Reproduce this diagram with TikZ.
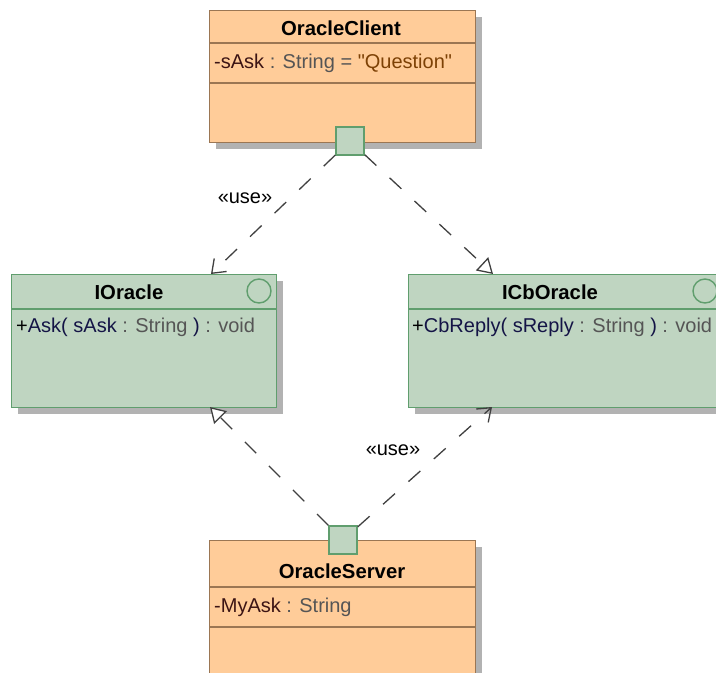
\documentclass[tikz,border=0pt]{standalone}
\usepackage{fontspec}
\setmainfont{Liberation Sans}[Ligatures=TeXOff]
\usetikzlibrary{arrows.meta,shadows}

\definecolor{clsfill}{RGB}{255,204,153}
\definecolor{clsdraw}{RGB}{155,118,83}
\definecolor{ifcfill}{RGB}{191,213,193}
\definecolor{ifcdraw}{RGB}{96,158,110}
\definecolor{shadowgray}{RGB}{178,178,178}
\definecolor{attrcol}{RGB}{60,20,20}
\definecolor{typecol}{RGB}{85,85,85}
\definecolor{valcol}{RGB}{125,65,5}
\definecolor{opcol}{RGB}{20,20,70}

\newcommand{\umlfont}{\fontsize{20}{24}\selectfont}

\tikzset{
  umlbox/.style={draw, line width=1.4pt, anchor=north west, inner sep=0,
    general shadow={fill=shadowgray, shadow xshift=6pt, shadow yshift=-6pt}},
  classbox/.style={umlbox, fill=clsfill, draw=clsdraw},
  ifcbox/.style={umlbox, fill=ifcfill, draw=ifcdraw},
  port/.style={draw=ifcdraw, fill=ifcfill, line width=1.4pt, minimum size=28pt, inner sep=0},
  boxname/.style={inner sep=0, font=\fontsize{20.3}{24}\selectfont\bfseries},
  member/.style={inner sep=0, anchor=west},
  usedep/.style={draw=black!75, line width=1.3pt, dash pattern=on 16pt off 18pt,
    -{Straight Barb[length=12pt, width=18pt, line width=1.3pt]}},
  realize/.style={draw=black!75, line width=1.3pt, dash pattern=on 16pt off 18pt,
    -{Triangle[open, length=15pt, width=18pt, fill=white, line width=1.3pt]}},
  stereo/.style={inner sep=0}
}

\begin{document}
\begin{tikzpicture}[x=1pt, y=-1pt, font=\umlfont]
\path[use as bounding box, clip] (0,0) rectangle (716,673);

% classes
\node[classbox, minimum width=266pt, minimum height=132pt] (client) at (209,10) {};
\node[ifcbox, minimum width=265pt, minimum height=133pt] (ior) at (11,274) {};
\node[ifcbox, minimum width=314pt, minimum height=133pt] (icb) at (408,274) {};
\node[classbox, minimum width=266pt, minimum height=145pt] (server) at (209,540) {};

% compartments
\foreach \y in {43,83}
  \draw[clsdraw, line width=1.4pt] (client.west |- 0,\y) -- (client.east |- 0,\y);
\foreach \y in {587,627}
  \draw[clsdraw, line width=1.4pt] (server.west |- 0,\y) -- (server.east |- 0,\y);
\draw[ifcdraw, line width=1.4pt] (ior.west |- 0,309) -- (ior.east |- 0,309);
\draw[ifcdraw, line width=1.4pt] (icb.west |- 0,309) -- (icb.east |- 0,309);

% interface circles
\draw[ifcdraw, line width=1.4pt] (259,291) circle[radius=12pt];
\draw[ifcdraw, line width=1.4pt] (705,291) circle[radius=12pt];

% texts
\node[boxname] (client-name) at (341,28) {OracleClient};
\node[member] (client-attr) at (214,63) {\textcolor{attrcol}{-sAsk} \textcolor{typecol}{: String =} \textcolor{valcol}{"Question"}};
\node[boxname] (ior-name) at (129,292) {IOracle};
\node[member] (ior-op) at (16,327) {+\textcolor{opcol}{Ask( sAsk} \textcolor{typecol}{: String} \textcolor{opcol}{)} \textcolor{typecol}{: void}};
\node[boxname] (icb-name) at (550,292) {ICbOracle};
\node[member] (icb-op) at (412,327) {+\textcolor{opcol}{CbReply( sReply} \textcolor{typecol}{: String} \textcolor{opcol}{)} \textcolor{typecol}{: void}};
\node[boxname] (server-name) at (342,571) {OracleServer};
\node[member] (server-attr) at (214,607) {\textcolor{attrcol}{-MyAsk} \textcolor{typecol}{: String}};

% ports
\node[port] (cport) at (350,141) {};
\node[port] (sport) at (343,540) {};

% connector ends
\coordinate (ior-top) at (211,274);
\coordinate (icb-top) at (493,274);
\coordinate (ior-bot) at (210,407);
\coordinate (icb-bot) at (492,407);

\draw[usedep] (cport) -- (ior-top);
\draw[realize] (cport) -- (icb-top);
\draw[realize] (sport) -- (ior-bot);
\draw[usedep] (sport) -- (icb-bot);

\node[stereo] (use-top) at (245,198) {«use»};
\node[stereo] (use-bot) at (393,450) {«use»};
\end{tikzpicture}
\end{document}
